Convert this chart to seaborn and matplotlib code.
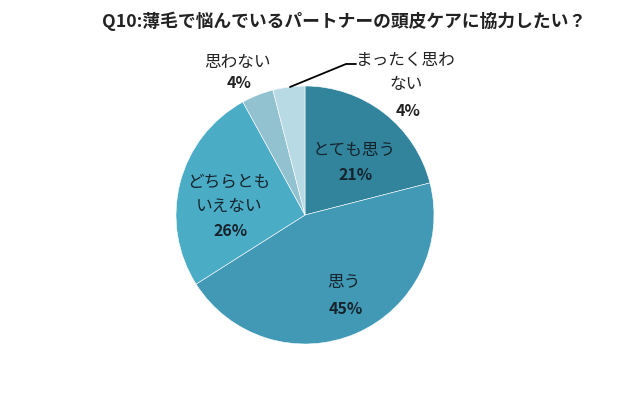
import matplotlib
matplotlib.use("Agg")
import matplotlib.pyplot as plt
import seaborn as sns

sns.set_theme(style="white")
plt.rcParams['font.family'] = ['Noto Sans CJK JP', 'DejaVu Sans']

title = "Q10:薄毛で悩んでいるパートナーの頭皮ケアに協力したい？"
categories = ["とても思う", "思う", "どちらともいえない", "思わない", "まったく思わない"]
values = [21, 45, 26, 4, 4]
name_lines = [["とても思う"], ["思う"], ["どちらとも", "いえない"], ["思わない"], ["まったく思わ", "ない"]]
pct_labels = ["21%", "45%", "26%", "4%", "4%"]
colors = ["#31849b", "#4199b5", "#4bacc6", "#92c1d0", "#b8dae5"]

W, H = 640, 395
fig = plt.figure(figsize=(W / 100, H / 100), dpi=100)
cx, cy, r = 305, 215, 129
ax = fig.add_axes([(cx - r) / W, (H - cy - r) / H, 2 * r / W, 2 * r / H])
ax.pie(values, colors=colors, startangle=90, counterclock=False,
       wedgeprops=dict(edgecolor="white", linewidth=0.4))
ax.set_xlim(-1, 1)
ax.set_ylim(-1, 1)
ax.axis("off")

def px(x, y):
    return x / W, 1 - y / H

# (center x, first line y, line step, text colour) for each label block
label_pos = [(354, 150, 25, "#15232d"), (344, 283, 26, "#15232d"), (229, 182, 24.5, "#15232d"),
             (237, 62, 21, "#222222"), (406, 60, 24, "#222222")]
for names, pct, (x, y0, step, col) in zip(name_lines, pct_labels, label_pos):
    y = y0
    for line in names:
        fig.text(*px(x, y), line, fontsize=12, color=col, ha="center", va="center")
        y += step
    if pct == "4%" and names[0].startswith("まったく"):
        y += 3
    fig.text(*px(x + 2, y), pct, fontsize=11.5, fontweight="bold", color=col, ha="center", va="center")

# leader line for the smallest slice
fig.add_artist(plt.Line2D([290 / W, 346 / W, 356 / W], [1 - 87 / H, 1 - 64 / H, 1 - 64 / H],
                          color="black", linewidth=1.3))

fig.text(*px(344, 21), title, fontsize=12.8, fontweight="bold", color="#222222", ha="center", va="center")

fig.savefig("out.png", dpi=100, facecolor="white")
